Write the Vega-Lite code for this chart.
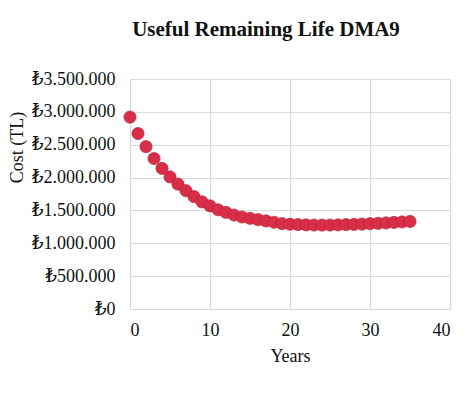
{
  "$schema": "https://vega.github.io/schema/vega-lite/v6.json",
  "description": "Useful remaining life cost curve for DMA9.",
  "width": 320,
  "height": 230,
  "autosize": {"type": "none"},
  "padding": {"left": 130, "top": 79, "right": 22, "bottom": 97},
  "background": "white",
  "title": {
    "text": "Useful Remaining Life DMA9",
    "font": "Liberation Serif",
    "fontSize": 21,
    "fontWeight": "bold",
    "color": "#111111",
    "anchor": "middle",
    "dx": -24,
    "offset": 30
  },
  "data": {
    "values": [
      {"year": 0, "cost": 2920000},
      {"year": 1, "cost": 2670000},
      {"year": 2, "cost": 2470000},
      {"year": 3, "cost": 2290000},
      {"year": 4, "cost": 2140000},
      {"year": 5, "cost": 2010000},
      {"year": 6, "cost": 1900000},
      {"year": 7, "cost": 1800000},
      {"year": 8, "cost": 1710000},
      {"year": 9, "cost": 1630000},
      {"year": 10, "cost": 1570000},
      {"year": 11, "cost": 1510000},
      {"year": 12, "cost": 1470000},
      {"year": 13, "cost": 1430000},
      {"year": 14, "cost": 1400000},
      {"year": 15, "cost": 1380000},
      {"year": 16, "cost": 1360000},
      {"year": 17, "cost": 1340000},
      {"year": 18, "cost": 1320000},
      {"year": 19, "cost": 1300000},
      {"year": 20, "cost": 1290000},
      {"year": 21, "cost": 1285000},
      {"year": 22, "cost": 1280000},
      {"year": 23, "cost": 1278000},
      {"year": 24, "cost": 1277000},
      {"year": 25, "cost": 1278000},
      {"year": 26, "cost": 1280000},
      {"year": 27, "cost": 1283000},
      {"year": 28, "cost": 1287000},
      {"year": 29, "cost": 1292000},
      {"year": 30, "cost": 1298000},
      {"year": 31, "cost": 1304000},
      {"year": 32, "cost": 1310000},
      {"year": 33, "cost": 1317000},
      {"year": 34, "cost": 1324000},
      {"year": 35, "cost": 1332000}
    ]
  },
  "mark": {
    "type": "point",
    "filled": true,
    "size": 150,
    "color": "#D82E48",
    "stroke": "#B21F38",
    "strokeWidth": 0.6,
    "opacity": 1
  },
  "encoding": {
    "x": {
      "field": "year",
      "type": "quantitative",
      "title": "Years",
      "scale": {"domain": [0, 40], "nice": false},
      "axis": {"values": [0, 10, 20, 30, 40], "labelPadding": 12, "titlePadding": 8}
    },
    "y": {
      "field": "cost",
      "type": "quantitative",
      "title": "Cost (TL)",
      "scale": {"domain": [0, 3500000], "nice": false},
      "axis": {
        "values": [0, 500000, 1000000, 1500000, 2000000, 2500000, 3000000, 3500000],
        "format": "$,.0f",
        "labelPadding": 15,
        "titleX": -104,
        "titleY": 68,
        "titleAnchor": "middle"
      }
    }
  },
  "config": {
    "locale": {
      "number": {
        "decimal": ",",
        "thousands": ".",
        "grouping": [3],
        "currency": ["₺", ""]
      }
    },
    "view": {"stroke": null},
    "axis": {
      "domain": false,
      "ticks": false,
      "grid": true,
      "gridColor": "#D6DCDC",
      "gridWidth": 1.2,
      "labelFont": "Liberation Serif, DejaVu Serif",
      "labelFontSize": 18,
      "labelColor": "#111111",
      "titleFont": "Liberation Serif",
      "titleFontSize": 18,
      "titleFontWeight": "normal",
      "titleColor": "#111111"
    }
  }
}
